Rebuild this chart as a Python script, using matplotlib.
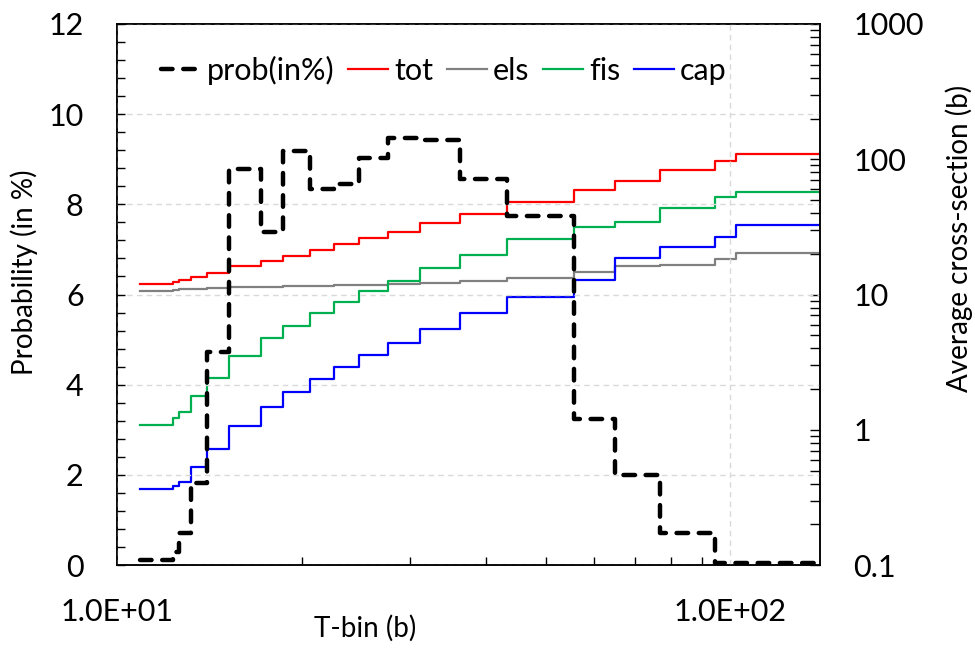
import matplotlib.pyplot as plt
import numpy as np
from matplotlib.ticker import FixedLocator, FuncFormatter, LogLocator, MultipleLocator, NullFormatter

plt.rcParams["font.family"] = ["Lato", "DejaVu Sans"]
plt.rcParams["font.size"] = 20

# T-bin edges (b), 20 bins
t_edges = [10.91, 12.32, 12.60, 13.19, 14.01, 15.23, 17.15, 18.64, 20.63, 22.56, 24.84,
           27.62, 31.22, 36.25, 43.27, 55.55, 64.77, 76.93, 94.54, 102.2, 139.5]

# probability per bin (in %)
prob = [0.11, 0.30, 0.72, 1.83, 4.72, 8.78, 7.38, 9.18, 8.33, 8.44,
        9.02, 9.47, 9.43, 8.56, 7.75, 3.23, 2.00, 0.72, 0.05, 0.05]

# average cross-sections per bin (b)
tot = [11.9, 12.4, 12.8, 13.4, 14.5, 16.3, 17.8, 19.4, 21.3, 23.5,
       26.0, 29.1, 33.6, 39.1, 48.5, 59.2, 69.1, 83.3, 97.5, 109.3]
els = [10.6, 10.8, 10.9, 11.0, 11.1, 11.3, 11.4, 11.5, 11.6, 11.7,
       11.8, 12.0, 12.2, 12.65, 13.2, 14.6, 16.3, 16.6, 18.3, 20.2]
fis = [1.08, 1.23, 1.36, 1.79, 2.43, 3.53, 4.75, 5.85, 7.26, 8.85,
       10.66, 12.6, 15.6, 19.6, 25.6, 31.7, 34.5, 43.4, 52.8, 57.0]
cap = [0.363, 0.384, 0.413, 0.533, 0.720, 1.07, 1.48, 1.89, 2.37, 2.90,
       3.57, 4.40, 5.56, 7.26, 9.53, 12.9, 18.5, 22.3, 26.7, 32.7]


def post(vals):
    return list(vals) + [vals[-1]]


fig = plt.figure(figsize=(9.75, 6.48), dpi=100)
ax = fig.add_axes([0.12, 0.128, 0.721, 0.835])
ax2 = ax.twinx()
ax.set_zorder(ax2.get_zorder() + 1)
ax.patch.set_visible(False)

series = [("tot", tot, "#ff0000"), ("els", els, "#808080"),
          ("fis", fis, "#00b050"), ("cap", cap, "#0000ff")]
handles = []
(hp,) = ax.step(t_edges, post(prob), where="post", color="black", lw=3.2,
                dashes=(2.6, 2.4), dash_capstyle="round", solid_capstyle="round",
                label="prob(in%)")
handles.append(hp)
for name, vals, col in series:
    (h,) = ax2.step(t_edges, post(vals), where="post", color=col, lw=1.6, label=name)
    handles.append(h)

ax.set_xscale("log")
ax.set_xlim(10, 140)
ax.set_ylim(0, 12)
ax2.set_yscale("log")
ax2.set_ylim(0.1, 1000)

ax.xaxis.set_major_locator(FixedLocator([10, 100]))
ax.xaxis.set_major_formatter(FuncFormatter(lambda v, p: f"{v:.1E}"))
ax.xaxis.set_minor_locator(LogLocator(base=10, subs=np.arange(2, 10)))
ax.xaxis.set_minor_formatter(NullFormatter())
ax.yaxis.set_major_locator(MultipleLocator(2))
ax.yaxis.set_minor_locator(MultipleLocator(0.4))
ax2.yaxis.set_major_locator(LogLocator(base=10))
ax2.yaxis.set_minor_locator(LogLocator(base=10, subs=np.arange(2, 10)))
ax2.yaxis.set_major_formatter(FuncFormatter(lambda v, p: f"{v:g}"))
ax2.yaxis.set_minor_formatter(NullFormatter())

ax.tick_params(axis="y", which="both", direction="in", length=6, width=1, pad=24,
               labelsize=22)
ax.tick_params(axis="x", which="major", direction="in", length=0, pad=24, labelsize=22)
ax.tick_params(axis="x", which="minor", direction="in", length=6, width=1)
ax2.tick_params(axis="y", which="both", direction="in", length=7, width=1, pad=24,
                labelsize=22)

ax.grid(True, which="major", axis="both", color="#d9d9d9", lw=1, ls=(0, (4, 3)))
ax.set_axisbelow(True)

for a in (ax, ax2):
    for s in a.spines.values():
        s.set_linewidth(1.1)
        s.set_color("black")

ax.set_xlabel("T-bin (b)", fontsize=20)
ax.xaxis.set_label_coords(0.353, -0.092)
ax.set_ylabel("Probability (in %)", fontsize=20)
ax.yaxis.set_label_coords(-0.112, 0.542)
ax2.set_ylabel("Average cross-section (b)", fontsize=20)
ax2.yaxis.set_label_coords(1.178, 0.604)

ax.legend(handles=handles, loc="center", bbox_to_anchor=(0.465, 0.915), ncol=5,
          frameon=False, fontsize=22, handlelength=1.3, handletextpad=0.2,
          columnspacing=0.45, borderaxespad=0)

fig.savefig("out.png", dpi=100)
